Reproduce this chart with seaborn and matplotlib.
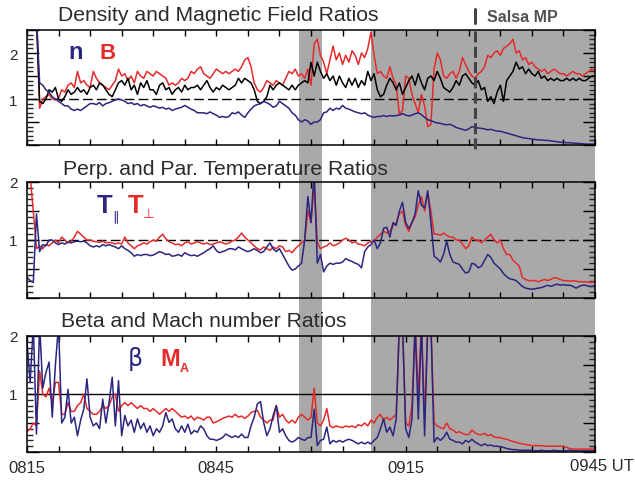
import numpy as np
import matplotlib
matplotlib.use("Agg")
import matplotlib.pyplot as plt
import seaborn as sns
from matplotlib.patches import Rectangle
from matplotlib.lines import Line2D
from matplotlib.transforms import blended_transform_factory
from matplotlib.ticker import MultipleLocator

sns.set_theme(style="white")
plt.rcParams['font.family'] = ['Liberation Sans', 'DejaVu Sans']

# ---- data (ratios, sampled every 0.5 min from 08:15 UT) ----
minutes = np.arange(0, 90.5, 0.5)
nan = np.nan

dens_n = [
    nan, nan, nan, 2.8, 1.35, 1.3, 1.2, 1.15, 1.05, 1.0, 0.95, 0.9, 0.85, 0.85, 0.78, 0.75, 0.78, 0.75, 0.8, 0.85,
    0.9, 0.9, 0.88, 0.92, 0.85, 0.9, 0.92, 0.95, 0.98, 1.0, 0.98, 0.95, 0.9, 0.92, 0.88, 0.9, 0.85, 0.88, 0.85, 0.82,
    0.85, 0.83, 0.8, 0.82, 0.78, 0.8, 0.75, 0.78, 0.8, 0.82, 0.86, 0.82, 0.78, 0.75, 0.7, 0.7, 0.7, 0.68, 0.72, 0.68,
    0.65, 0.6, 0.62, 0.6, 0.62, 0.7, 0.68, 0.72, 0.65, 0.6, 0.7, 0.78, 0.85, 0.88, 0.9, 0.95, 0.92, 0.88, 0.82, 0.85,
    0.95, 0.9, 0.85, 0.8, 0.7, 0.65, 0.55, 0.5, 0.55, 0.52, 0.45, 0.5, 0.5, 0.55, 0.7, 0.72, 0.8, 0.75, 0.8, 0.78,
    0.86, 0.8, 0.78, 0.75, 0.72, 0.7, 0.68, 0.7, 0.65, 0.62, 0.6, 0.62, 0.62, 0.64, 0.62, 0.64, 0.63, 0.64, 0.65, 0.68,
    0.65, 0.63, 0.65, 0.68, 0.7, 0.66, 0.6, 0.55, 0.53, 0.5, 0.48, 0.47, 0.45, 0.44, 0.45, 0.42, 0.38, 0.36, 0.34, 0.32,
    0.35, 0.4, 0.38, 0.37, 0.36, 0.35, 0.33, 0.34, 0.32, 0.3, 0.3, 0.28, 0.26, 0.24, 0.22, 0.2, 0.18, 0.16, 0.15, 0.14,
    0.13, 0.12, 0.11, 0.11, 0.1, 0.1, 0.09, 0.08, 0.07, 0.06, 0.06, 0.05, 0.05, 0.04, 0.04, 0.03, 0.03, 0.02, 0.02, 0.02,
    0.02]

field_b = [
    nan, nan, nan, 2.8, 0.8, 1.0, 1.05, 1.1, 1.0, 0.98, 1.02, 1.2, 1.15, 1.3, 1.35, 1.25, 1.6, 1.35, 1.4, 1.3,
    1.25, 1.6, 1.45, 1.35, 1.3, 1.25, 1.2, 1.3, 1.4, 1.65, 1.5, 1.55, 1.4, 1.5, 1.35, 1.6, 1.5, 1.45, 1.6, 1.55,
    1.5, 1.6, 1.55, 1.5, 1.45, 1.3, 1.35, 1.3, 1.35, 1.45, 1.4, 1.45, 1.6, 1.55, 1.65, 1.7, 1.55, 1.5, 1.45, 1.55,
    1.65, 1.6, 1.55, 1.6, 1.55, 1.6, 1.65, 1.6, 1.7, 1.85, 1.9, 1.7, 1.35, 1.2, 1.15, 1.25, 1.4, 1.35, 1.3, 1.4,
    1.35, 1.3, 1.45, 1.6, 1.55, 1.65, 1.5, 1.55, 1.45, 1.65, 1.3, 2.2, 2.3, 1.95, 1.8, 1.55, 1.85, 2.15, 1.85, 2.0,
    1.75, 1.95, 1.8, 2.05, 1.95, 1.75, 2.0, 1.9, 2.1, 2.45, 1.95, 1.55, 1.6, 1.5, 1.45, 1.7, 1.45, 1.3, 0.67, 0.75,
    1.5, 1.45, 1.1, 0.9, 0.7, 1.1, 0.85, 0.4, 0.45, 1.65, 2.0, 1.85, 1.5, 1.45, 1.55, 1.6, 1.45, 1.6, 1.9, 1.75,
    1.6, 1.5, 1.45, 1.55, 1.6, 1.7, 1.95, 1.9, 2.0, 2.05, 1.95, 2.1, 2.15, 2.2, 2.3, 2.0, 2.05, 1.85, 1.9, 1.75,
    1.8, 1.7, 1.65, 1.6, 1.65, 1.55, 1.6, 1.65, 1.6, 1.55, 1.55, 1.5, 1.55, 1.6, 1.55, 1.55, 1.5, 1.55, 1.6, 1.65,
    1.6]

field_ratio = [
    nan, nan, nan, 2.8, 0.95, 0.9, 1.0, 1.2, 1.15, 1.25, 1.0, 0.95, 1.05, 1.2, 1.1, 1.15, 1.25, 1.15, 1.2, 1.1,
    1.25, 1.3, 1.2, 1.35, 1.3, 1.2, 1.1, 1.05, 1.2, 1.35, 1.4, 1.3, 1.45, 1.2, 1.3, 1.1, 1.35, 1.25, 1.4, 1.2,
    1.2, 1.1, 1.3, 1.35, 1.2, 1.25, 1.1, 1.2, 1.25, 1.15, 1.3, 1.2, 1.25, 1.25, 1.3, 1.2, 1.3, 1.4, 1.25, 1.15,
    1.25, 1.2, 1.3, 1.25, 1.2, 1.25, 1.3, 1.45, 1.35, 1.45, 1.4, 1.35, 1.2, 0.95, 0.9, 0.95, 1.05, 1.3, 1.2, 1.3,
    1.35, 1.3, 1.25, 1.2, 1.3, 1.2, 1.3, 1.35, 1.4, 1.35, 1.8, 1.5, 1.8, 1.6, 1.45, 1.55, 1.4, 1.5, 1.3, 1.5,
    1.35, 1.25, 1.45, 1.3, 1.45, 1.25, 1.4, 1.3, 1.6, 1.4, 1.55, 1.2, 1.05, 1.1, 1.3, 1.45, 1.35, 1.2, 1.35, 1.1,
    1.25, 1.4, 1.5, 1.3, 1.55, 1.35, 1.2, 1.45, 1.5, 1.4, 1.6, 1.45, 1.25, 1.2, 1.15, 1.25, 1.4, 1.3, 1.5, 1.55,
    1.45, 1.35, 1.3, 1.4, 1.2, 1.25, 0.95, 1.05, 0.9, 1.15, 1.3, 0.95, 1.4, 1.5, 1.6, 1.8, 1.65, 1.7, 1.55, 1.65,
    1.55, 1.5, 1.6, 1.45, 1.5, 1.4, 1.45, 1.4, 1.45, 1.4, 1.4, 1.45, 1.4, 1.45, 1.4, 1.45, 1.4, 1.4, 1.45, 1.5,
    1.5]

t_par = [
    0.36, 0.3, 0.27, 1.45, 0.8, 0.92, 0.9, 1.0, 1.0, 0.95, 0.92, 0.95, 0.93, 0.97, 0.95, 0.97, 0.98, 0.97, 0.98, 0.95,
    0.9, 0.88, 0.9, 0.88, 0.92, 0.9, 0.92, 0.9, 0.88, 0.85, 0.9, 0.85, 0.82, 0.78, 0.72, 0.75, 0.73, 0.75, 0.75, 0.73,
    0.74, 0.77, 0.8, 0.78, 0.75, 0.76, 0.72, 0.73, 0.75, 0.72, 0.78, 0.75, 0.73, 0.74, 0.72, 0.75, 0.78, 0.82, 0.85, 0.9,
    0.82, 0.78, 0.8, 0.82, 0.85, 0.85, 0.83, 0.88, 0.85, 0.82, 0.8, 0.82, 0.85, 0.82, 0.78, 0.8, 0.88, 0.95, 0.85, 0.8,
    0.85, 0.75, 0.65, 0.55, 0.48, 0.5, 0.55, 0.6, 1.0, 1.75, 1.3, 2.2, 0.6, 0.75, 0.45, 0.55, 0.6, 0.58, 0.6, 0.6,
    0.62, 0.68, 0.65, 0.63, 0.6, 0.58, 0.52, 0.8, 0.88, 0.92, 1.0, 0.85, 0.95, 1.2, 1.22, 1.05, 1.3, 1.25, 1.5, 1.65,
    1.3, 1.2, 1.3, 1.45, 1.85, 1.6, 1.55, 1.85, 1.3, 0.72, 0.68, 0.62, 0.75, 0.98, 0.75, 0.62, 0.6, 0.58, 0.5, 0.43,
    0.45, 0.6, 0.58, 0.52, 0.55, 0.65, 0.75, 0.7, 0.6, 0.55, 0.5, 0.42, 0.37, 0.33, 0.32, 0.3, 0.25, 0.2, 0.17, 0.16,
    0.15, 0.16, 0.17, 0.18, 0.2, 0.22, 0.2, 0.22, 0.24, 0.22, 0.23, 0.22, 0.22, 0.2, 0.17, 0.2, 0.22, 0.22, 0.2, 0.2,
    0.21]

t_perp = [
    nan, 2.1, 1.5, 0.85, 0.9, 0.85, 0.92, 0.9, 0.95, 1.0, 0.95, 1.05, 1.0, 0.95, 0.98, 1.05, 1.15, 1.1, 1.05, 1.0,
    1.0, 0.98, 0.97, 0.96, 0.98, 0.95, 0.96, 0.95, 0.93, 0.95, 0.93, 1.05, 0.95, 0.9, 0.85, 0.9, 0.92, 0.95, 0.93, 0.97,
    1.0, 0.98, 1.05, 1.1, 1.02, 0.97, 0.95, 0.92, 0.93, 0.9, 0.95, 0.97, 0.93, 0.95, 0.97, 0.95, 0.93, 0.95, 0.92, 0.93,
    0.95, 0.97, 0.95, 0.93, 0.95, 0.98, 1.0, 1.05, 1.12, 1.05, 1.0, 0.95, 0.9, 0.85, 0.83, 0.88, 0.85, 0.82, 0.88, 0.85,
    0.9, 0.88, 0.8, 0.82, 0.78, 0.85, 0.9, 0.95, 1.0, 1.5, 1.3, 1.95, 0.95, 0.85, 0.88, 0.9, 0.95, 0.9, 0.92, 0.95,
    1.0, 1.03, 1.0, 0.95, 0.97, 0.93, 0.92, 0.9, 0.95, 0.97, 0.98, 1.05, 1.1, 1.15, 1.12, 1.15, 1.25, 1.3, 1.45, 1.5,
    1.25, 1.15, 1.3, 1.4, 1.6, 1.75, 1.5, 1.8, 1.5, 1.1, 1.1, 1.08, 1.12, 1.08, 1.05, 1.05, 1.0, 1.0, 0.93, 0.85,
    0.9, 1.05, 1.0, 1.0, 0.95, 1.0, 1.05, 1.1, 1.0, 0.95, 1.0, 0.85, 0.75, 0.75, 0.65, 0.6, 0.55, 0.35, 0.32, 0.3,
    0.3, 0.3, 0.28, 0.3, 0.32, 0.3, 0.32, 0.35, 0.34, 0.32, 0.3, 0.3, 0.29, 0.3, 0.29, 0.28, 0.28, 0.28, 0.27, 0.27,
    0.28]

beta = [
    1.9, 1.2, 2.2, 0.31, 2.2, 1.1, 1.37, 1.55, 0.6, 1.5, 2.2, 0.5, 0.6, 1.08, 0.5, 0.6, 0.28, 0.55, 0.74, 1.26,
    0.6, 0.45, 0.5, 0.4, 0.91, 0.5, 0.85, 1.29, 0.45, 1.23, 0.28, 0.63, 0.45, 0.55, 0.34, 0.57, 0.4, 0.5, 0.34, 0.45,
    0.28, 0.4, 0.34, 0.45, 0.68, 0.51, 0.57, 0.4, 0.34, 0.45, 0.34, 0.48, 0.31, 0.37, 0.34, 0.45, 0.4, 0.28, 0.22, 0.22,
    0.2, 0.22, 0.25, 0.31, 0.28, 0.25, 0.28, 0.25, 0.31, 0.25, 0.25, 0.45, 0.6, 0.83, 0.87, 0.51, 0.28, 0.4, 0.63, 0.8,
    0.34, 0.4, 0.28, 0.2, 0.17, 0.2, 0.25, 0.22, 0.2, 0.25, 0.25, 0.74, 0.11, 0.2, 0.22, 0.43, 0.14, 0.2, 0.17, 0.2,
    0.17, 0.2, 0.22, 0.2, 0.17, 0.14, 0.17, 0.14, 0.17, 0.14, 0.2, 0.25, 0.4, 0.57, 0.34, 0.43, 0.28, 0.57, 2.2, 2.2,
    0.4, 0.25, 0.57, 2.2, 0.57, 2.2, 0.28, 2.2, 2.2, 0.17, 0.25, 0.2, 0.25, 0.34, 0.22, 0.2, 0.17, 0.17, 0.14, 0.2,
    0.17, 0.22, 0.17, 0.14, 0.11, 0.14, 0.11, 0.12, 0.1, 0.1, 0.09, 0.08, 0.06, 0.05, 0.04, 0.04, 0.03, 0.03, 0.03, 0.03,
    0.03, 0.02, 0.02, 0.03, 0.02, 0.02, 0.02, 0.03, 0.02, 0.02, 0.02, 0.02, 0.03, 0.02, 0.02, 0.02, 0.02, 0.02, 0.02, 0.02,
    0.02]

mach_a = [
    0.35, 0.4, 0.5, 0.45, 1.4, 1.0, 0.95, 1.1, 0.85, 1.2, 1.2, 0.65, 0.65, 0.85, 0.7, 0.7, 0.8, 0.85, 1.0, 0.75,
    0.7, 0.65, 0.65, 0.7, 0.8, 0.75, 0.8, 0.95, 1.0, 0.7, 0.8, 0.85, 0.8, 0.85, 0.8, 0.75, 0.8, 0.75, 0.75, 0.7,
    0.75, 0.7, 0.65, 0.7, 0.75, 0.7, 0.75, 0.7, 0.65, 0.6, 0.62, 0.58, 0.62, 0.55, 0.6, 0.58, 0.55, 0.6, 0.6, 0.5,
    0.52, 0.55, 0.58, 0.6, 0.62, 0.6, 0.65, 0.6, 0.62, 0.58, 0.62, 0.68, 0.7, 0.72, 0.6, 0.55, 0.5, 0.55, 0.55, 0.8,
    0.6, 0.65, 0.55, 0.5, 0.55, 0.5, 0.6, 0.65, 0.6, 0.55, 0.6, 1.1, 0.5, 0.45, 0.55, 0.75, 0.45, 0.42, 0.45, 0.43,
    0.42, 0.45, 0.43, 0.45, 0.42, 0.47, 0.45, 0.5, 0.45, 0.55, 0.5, 0.6, 0.65, 0.55, 0.6, 0.55, 0.6, 0.65, 2.2, 2.2,
    0.5, 0.45, 0.8, 2.2, 1.0, 2.2, 0.6, 2.2, 2.2, 0.5, 0.45, 0.42, 0.4, 0.5, 0.4, 0.38, 0.33, 0.35, 0.32, 0.3,
    0.3, 0.38, 0.33, 0.3, 0.3, 0.32, 0.28, 0.3, 0.26, 0.25, 0.25, 0.23, 0.22, 0.2, 0.18, 0.17, 0.15, 0.14, 0.13, 0.12,
    0.11, 0.11, 0.11, 0.11, 0.1, 0.1, 0.1, 0.1, 0.1, 0.1, 0.1, 0.08, 0.06, 0.05, 0.05, 0.05, 0.05, 0.05, 0.05, 0.05,
    0.05]

# shaded intervals (minutes after 0815) and Salsa magnetopause crossing
shade_spans = [(43.1, 46.75), (54.5, 90.0)]
salsa_mp = 71.0

NAVY = '#2a2680'
RED = '#e52a2a'
GREY = '#a9a9a9'
TXT = '#2b2b2b'

W, H = 635, 481
def fx(x):
    return x / W
def fy(y):
    return 1 - y / H

fig = plt.figure(figsize=(6.35, 4.81), dpi=100)
fig.patch.set_facecolor('white')

# axes boxes in pixels: (top, bottom)
boxes = [(31, 146), (183, 299), (337, 453)]
axes = []
for top, bot in boxes:
    ax = fig.add_axes([fx(27), fy(bot), fx(595) - fx(27), (bot - top) / H])
    ax.set_facecolor('none')
    axes.append(ax)
ax1, ax2, ax3 = axes

# grey shading spanning all panels
trans = blended_transform_factory(ax3.transData, fig.transFigure)
for x0, x1 in shade_spans:
    fig.add_artist(Rectangle((x0, fy(453)), x1 - x0, fy(31) - fy(453), transform=trans,
                             facecolor=GREY, edgecolor='none', zorder=-5))

lw = 1.1
sns.lineplot(x=minutes, y=field_b, ax=ax1, color=RED, lw=lw, estimator=None, sort=False)
sns.lineplot(x=minutes, y=field_ratio, ax=ax1, color='black', lw=lw, estimator=None, sort=False)
sns.lineplot(x=minutes, y=dens_n, ax=ax1, color=NAVY, lw=lw, estimator=None, sort=False)

sns.lineplot(x=minutes, y=t_perp, ax=ax2, color=RED, lw=lw, estimator=None, sort=False)
sns.lineplot(x=minutes, y=t_par, ax=ax2, color=NAVY, lw=lw, estimator=None, sort=False)

sns.lineplot(x=minutes, y=mach_a, ax=ax3, color=RED, lw=lw, estimator=None, sort=False)
sns.lineplot(x=minutes, y=beta, ax=ax3, color=NAVY, lw=lw, estimator=None, sort=False)

ax1.axhline(1, color='black', lw=1, dashes=(7, 3), zorder=1)
ax2.axhline(1, color='black', lw=1, dashes=(7, 3), zorder=1)
ax3.axhline(1, color='black', lw=1, zorder=1)

ylims = [2.5, 2.0, 2.0]
xlabels = {0: '0815', 30: '0845', 60: '0915'}
for i, ax in enumerate(axes):
    ax.set_xlim(0, 90)
    ax.set_ylim(0, ylims[i])
    xt = np.arange(0, 91, 5)
    ax.set_xticks(xt, [xlabels.get(int(v), '') for v in xt])
    yt = np.arange(0, ylims[i] + 0.01, 0.5)
    ax.set_yticks(yt, ['1' if abs(v - 1) < 1e-6 else '2' if abs(v - 2) < 1e-6 else '' for v in yt])
    ax.yaxis.set_minor_locator(MultipleLocator(0.1))
    ax.tick_params(axis='x', which='major', direction='in', length=4.5, width=1, top=True, bottom=True,
                   labelbottom=(i == 2), labelsize=12, pad=6, colors='black', labelcolor=TXT)
    ax.tick_params(axis='y', which='major', direction='in', length=8.6, width=1, left=True, right=True,
                   labelsize=11, pad=7, colors='black', labelcolor=TXT)
    ax.tick_params(axis='y', which='minor', direction='in', length=4.3, width=1, left=True, right=True)
    for s in ax.spines.values():
        s.set_color('black')
        s.set_linewidth(1.1)
    ax.set_xlabel('')
    ax.set_ylabel('')

fig.text(fx(570), fy(467), '0945 UT', fontsize=12, color=TXT, ha='left', va='center')

# panel titles
fig.text(fx(58), fy(21), 'Density and Magnetic Field Ratios', fontsize=15.2, color=TXT, va='baseline')
fig.text(fx(63), fy(175), 'Perp. and Par. Temperature Ratios', fontsize=15.2, color=TXT, va='baseline')
fig.text(fx(61), fy(327), 'Beta and Mach number Ratios', fontsize=15.2, color=TXT, va='baseline')

# Salsa magnetopause marker
ftrans = blended_transform_factory(ax1.transData, fig.transFigure)
fig.add_artist(Line2D([salsa_mp, salsa_mp], [fy(10), fy(24)], transform=ftrans, color='#444444', lw=2.2, zorder=6))
fig.add_artist(Line2D([salsa_mp, salsa_mp], [fy(32), fy(152)], transform=ftrans, color='#444444', lw=2.2,
                      dashes=(3.6, 1.4), zorder=6))
fig.text(fx(487), fy(22), 'Salsa MP', fontsize=11.5, fontweight='bold', color='#505050', va='baseline')

# series labels
fig.text(fx(68), fy(59), 'n', fontsize=17, fontweight='bold', color=NAVY, va='baseline')
fig.text(fx(99), fy(59), 'B', fontsize=16, fontweight='bold', color=RED, va='baseline')

fig.text(fx(97), fy(213), 'T', fontsize=18.5, fontweight='bold', color=NAVY, va='baseline')
fig.text(fx(112), fy(220), '\u2225', fontsize=9.5, color=NAVY, va='baseline', family=['DejaVu Sans'])
fig.text(fx(128), fy(213), 'T', fontsize=18.5, fontweight='bold', color=RED, va='baseline')
fig.text(fx(143), fy(218), '\u22a5', fontsize=9.5, color=RED, va='baseline', family=['DejaVu Sans'])

fig.text(fx(128), fy(366), '\u03b2', fontsize=17, color=NAVY, va='baseline', family=['DejaVu Sans'])
fig.text(fx(160), fy(366), 'M', fontsize=17, fontweight='bold', color=RED, va='baseline')
fig.text(fx(180), fy(372), 'A', fontsize=9, fontweight='bold', color=RED, va='baseline')

fig.savefig('out.png', dpi=100)
